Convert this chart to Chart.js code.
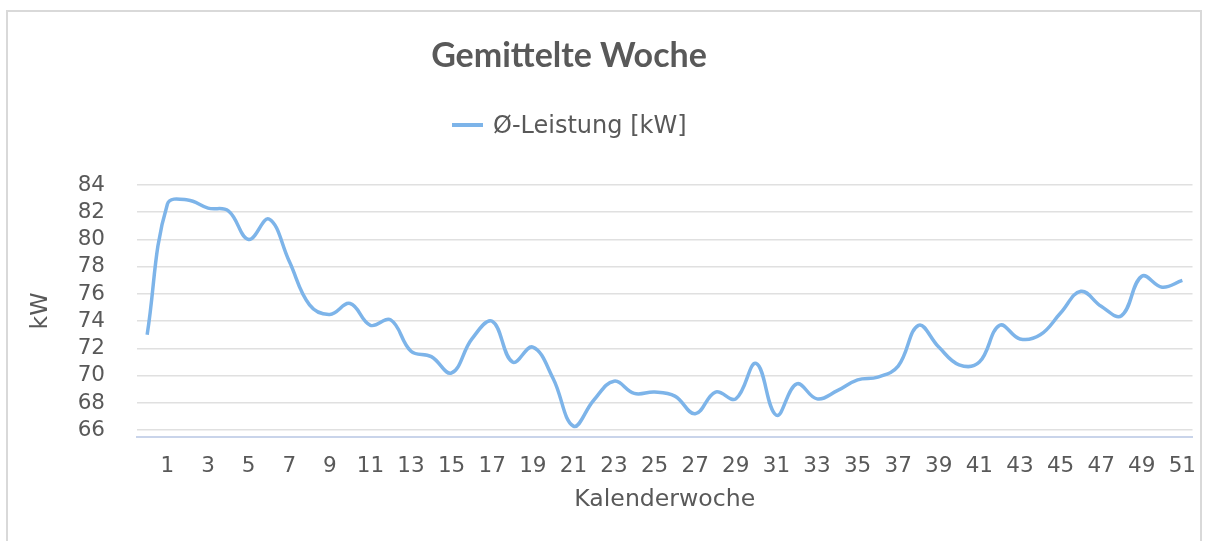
<!DOCTYPE html>
<html>
<head>
<meta charset="utf-8">
<script src="https://cdn.jsdelivr.net/npm/chart.js@4.4.0/dist/chart.umd.min.js"></script>
<style>
  html, body { margin: 0; padding: 0; background: #fff; }
  #wrap { position: relative; width: 1206px; height: 541px; overflow: hidden; }
  #frame {
    position: absolute; left: 6px; top: 10px; width: 1192px; height: 560px;
    border-top: 2px solid #d9d9d9; border-left: 2px solid #d9d9d9; border-right: 2px solid #d9d9d9;
  }
  #title {
    position: absolute; left: 369px; width: 400px; top: 33px; text-align: center;
    font: bold 34px Lato, "Open Sans", sans-serif; color: #595959;
  }
  #legend {
    position: absolute; left: 452px; top: 111px; height: 30px;
    font: 24px "DejaVu Sans", sans-serif; color: #595959; white-space: nowrap;
  }
  #legend .swatch {
    display: inline-block; width: 31px; height: 4px; background: #7db4e9;
    vertical-align: middle; margin-right: 10px; position: relative; top: -1px;
  }
  #chart { position: absolute; left: 0; top: 0; }
</style>
</head>
<body>
<div id="wrap">
  <div id="frame"></div>
  <canvas id="chart" width="1206" height="541"></canvas>
  <div id="title"></div>
  <div id="legend"></div>
</div>
<script>
const chartTitle = 'Gemittelte Woche'
const seriesLabel = 'Ø-Leistung [kW]'
const xTitle = 'Kalenderwoche'
const yTitle = 'kW'

// Kalenderwochen 0..51
const weeks = [
  0, 1, 2, 3, 4, 5, 6, 7, 8, 9, 10, 11, 12, 13, 14, 15, 16, 17, 18, 19, 20,
  21, 22, 23, 24, 25, 26, 27, 28, 29, 30, 31, 32, 33, 34, 35, 36, 37, 38, 39, 40,
  41, 42, 43, 44, 45, 46, 47, 48, 49, 50, 51
]

// mittlere Leistung je Woche in kW
const power = [
  73.0, 82.6, 82.9, 82.3, 82.1, 80.0, 81.5, 78.4, 75.2, 74.5, 75.3,
  73.7, 74.1, 71.8, 71.4, 70.2, 72.7, 74.0, 71.0, 72.1, 69.8,
  66.3, 68.2, 69.6, 68.7, 68.8, 68.5, 67.2, 68.8, 68.3, 70.9,
  67.1, 69.4, 68.3, 68.9, 69.7, 69.9, 70.7, 73.7, 72.1, 70.8,
  71.0, 73.7, 72.7, 73.0, 74.6, 76.2, 75.1, 74.4, 77.3, 76.5, 77.0
]

const yTicks = [66, 68, 70, 72, 74, 76, 78, 80, 82, 84]
const yMin = 65.5
const yMax = 84

const lineColor = '#7db4e9'
const textColor = '#595959'

document.getElementById('title').textContent = chartTitle
document.getElementById('legend').innerHTML = '<span class="swatch"></span>'
document.getElementById('legend').appendChild(document.createTextNode(seriesLabel))

const canvas = document.getElementById('chart')

new Chart(canvas, {
  type: 'line',
  data: {
    labels: weeks,
    datasets: [{
      label: seriesLabel,
      data: power,
      borderColor: lineColor,
      borderWidth: 3.5,
      tension: 0.4,
      fill: false,
      pointRadius: 0,
      pointHoverRadius: 0
    }]
  },
  options: {
    responsive: false,
    animation: false,
    layout: { padding: { top: 185, right: 13.5, bottom: 0, left: 0 } },
    plugins: {
      legend: { display: false },
      title: { display: false },
      tooltip: { enabled: false }
    },
    scales: {
      x: {
        type: 'category',
        offset: true,
        grid: { drawOnChartArea: false, drawTicks: false, tickLength: 0 },
        border: { display: true, color: '#c9d4ea', width: 2 },
        ticks: {
          autoSkip: false,
          maxRotation: 0,
          color: textColor,
          font: { family: 'DejaVu Sans', size: 21.5 },
          padding: 17,
          callback: function (val, i) {
            const w = weeks[i]
            return w % 2 === 1 ? String(w) : ''
          }
        },
        title: {
          display: true,
          text: xTitle,
          color: textColor,
          font: { family: 'DejaVu Sans', size: 23.6 },
          padding: { top: 0, bottom: 27 }
        },
        afterFit: function (scale) {
          scale.height = 104
          scale.paddingLeft = 0
          scale.paddingRight = 0
        }
      },
      y: {
        min: yMin,
        max: yMax,
        grid: { color: '#e0e0e0', lineWidth: 1.5, drawTicks: false, tickLength: 0 },
        border: { display: false },
        afterBuildTicks: function (scale) {
          scale.ticks = yTicks.map(v => ({ value: v }))
        },
        ticks: {
          autoSkip: false,
          color: textColor,
          font: { family: 'DejaVu Sans', size: 21.5 },
          padding: 32
        },
        title: {
          display: true,
          text: yTitle,
          color: textColor,
          font: { family: 'DejaVu Sans', size: 23.6 },
          padding: { top: 27, bottom: 0 }
        },
        afterFit: function (scale) {
          scale.width = 137
          scale.paddingTop = 0
          scale.paddingBottom = 0
        }
      }
    }
  }
})
</script>
</body>
</html>
